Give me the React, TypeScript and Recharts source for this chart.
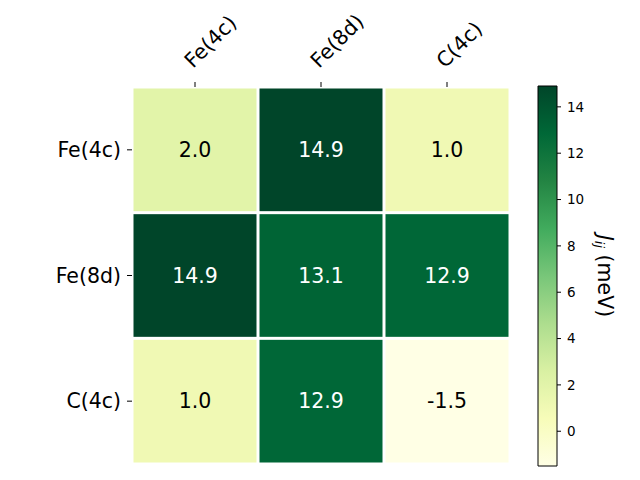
import {
  ComposedChart,
  ReferenceArea,
  Scatter,
  ScatterChart,
  XAxis,
  YAxis,
} from "recharts";

// site labels
const sites = ["Fe(4c)", "Fe(8d)", "C(4c)"];
// exchange couplings J_ij (meV), one row per site
const rowFe4c = [2.0, 14.9, 1.0];
const rowFe8d = [14.9, 13.1, 12.9];
const rowC4c = [1.0, 12.9, -1.5];
const colorbarTicks = [0, 2, 4, 6, 8, 10, 12, 14];
const vmin = -1.5;
const vmax = 14.9;

// YlGn colormap stops
const ylgn = [
  [255, 255, 229],
  [247, 252, 185],
  [217, 240, 163],
  [173, 221, 142],
  [120, 198, 121],
  [65, 171, 93],
  [35, 132, 67],
  [0, 104, 55],
  [0, 69, 41],
];

function colorAt(v: number) {
  const t = Math.max(0, Math.min(1, (v - vmin) / (vmax - vmin)));
  const p = t * (ylgn.length - 1);
  const i = Math.min(Math.floor(p), ylgn.length - 2);
  const f = p - i;
  const c = ylgn[i].map((a, k) => Math.round(a + (ylgn[i + 1][k] - a) * f));
  return `rgb(${c[0]},${c[1]},${c[2]})`;
}

const rows = [rowFe4c, rowFe8d, rowC4c];
const cells = rows.flatMap((r, y) => r.map((v, x) => ({ x, y, v })));

const FONT = "DejaVu Sans, sans-serif";
const W = 640;
const H = 480;
const margin = { top: 57, right: 130, bottom: 16, left: 72 };
const X_AXIS_H = 30;
const Y_AXIS_W = 60;
const plotW = W - margin.left - margin.right - Y_AXIS_W;
const plotH = H - margin.top - margin.bottom - X_AXIS_H;

const HeatCell = (props: any) => {
  const { cx, cy, payload } = props;
  const cw = plotW / 3;
  const ch = plotH / 3;
  const gap = 1.5;
  return (
    <g>
      <rect
        x={cx - cw / 2 + gap}
        y={cy - ch / 2 + gap}
        width={cw - 2 * gap}
        height={ch - 2 * gap}
        fill={colorAt(payload.v)}
      />
      <text
        x={cx}
        y={cy}
        textAnchor="middle"
        dominantBaseline="central"
        fontFamily={FONT}
        fontSize={20.5}
        fill={payload.v > 8 ? "#ffffff" : "#000000"}
      >
        {payload.v.toFixed(1)}
      </text>
    </g>
  );
};

const TopTick = (props: any) => {
  const { x, y, payload } = props;
  const tx = x - 2;
  const ty = y - 4;
  return (
    <text
      x={tx}
      y={ty}
      transform={`rotate(-45, ${tx}, ${ty})`}
      textAnchor="start"
      fontFamily={FONT}
      fontSize={20.5}
      fill="#000"
    >
      {sites[payload.value]}
    </text>
  );
};

const CbarLabel = (props: any) => {
  const { viewBox } = props;
  const x = viewBox.x + 48;
  const y = viewBox.y + viewBox.height / 2;
  return (
    <text
      x={x}
      y={y}
      transform={`rotate(90, ${x}, ${y})`}
      textAnchor="middle"
      dominantBaseline="central"
      fontFamily={FONT}
      fontSize={20.5}
      fill="#000"
    >
      <tspan fontStyle="italic">J</tspan>
      <tspan fontStyle="italic" fontSize={13} dy={5}>ij</tspan>
      <tspan dy={-5}> (meV)</tspan>
    </text>
  );
};

export default function App() {
  return (
    <div style={{ position: "absolute", left: 0, top: 0, width: W, height: H, background: "#fff" }}>
      <div style={{ position: "absolute", left: 0, top: 0 }}>
        <ScatterChart width={W} height={H} margin={margin}>
          <XAxis
            type="number"
            dataKey="x"
            orientation="top"
            domain={[-0.5, 2.5]}
            ticks={[0, 1, 2]}
            height={X_AXIS_H}
            axisLine={false}
            tickSize={5}
            tickMargin={9}
            tick={<TopTick />}
            stroke="#000"
          />
          <YAxis
            type="number"
            dataKey="y"
            domain={[-0.5, 2.5]}
            ticks={[0, 1, 2]}
            reversed
            width={Y_AXIS_W}
            axisLine={false}
            tickSize={5}
            tickMargin={6}
            tickFormatter={(i: number) => sites[i]}
            tick={{ fontFamily: FONT, fontSize: 20.5, fill: "#000" }}
            stroke="#000"
          />
          <Scatter data={cells} shape={<HeatCell />} isAnimationActive={false} />
        </ScatterChart>
      </div>
      <div style={{ position: "absolute", left: 0, top: 0 }}>
        <ComposedChart
          width={W}
          height={H}
          data={[{ x: 0 }, { x: 1 }]}
          margin={{ top: 86, right: 43, bottom: 14, left: 538 }}
        >
          <defs>
            <linearGradient id="cbar" x1="0" y1="1" x2="0" y2="0">
              {ylgn.map((c, i) => (
                <stop
                  key={i}
                  offset={i / (ylgn.length - 1)}
                  stopColor={`rgb(${c[0]},${c[1]},${c[2]})`}
                />
              ))}
            </linearGradient>
          </defs>
          <XAxis type="number" dataKey="x" domain={[0, 1]} hide height={0} />
          <YAxis
            type="number"
            orientation="right"
            domain={[vmin, vmax]}
            ticks={colorbarTicks}
            width={40}
            axisLine={false}
            tickSize={4}
            tickMargin={6}
            tick={{ fontFamily: FONT, fontSize: 13.5, fill: "#000" }}
            stroke="#000"
            label={<CbarLabel />}
          />
          <ReferenceArea
            x1={0}
            x2={1}
            y1={vmin}
            y2={vmax}
            fill="url(#cbar)"
            fillOpacity={1}
            stroke="#000"
            strokeWidth={1}
            ifOverflow="extendDomain"
          />
        </ComposedChart>
      </div>
    </div>
  );
}
